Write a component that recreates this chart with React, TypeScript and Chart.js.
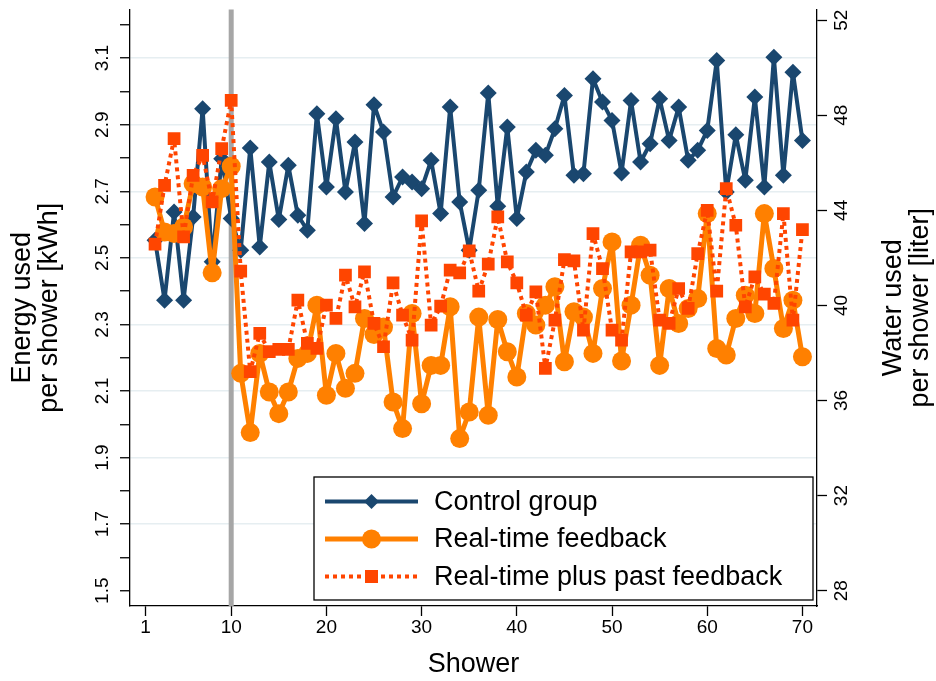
import React, { useEffect, useRef } from 'react';
import { Chart, registerables } from 'chart.js';

Chart.register(...registerables);

// ---------------- data ----------------
const SHOWERS = [
  2, 3, 4, 5, 6, 7, 8, 9, 10, 11, 12, 13, 14, 15, 16, 17, 18, 19, 20, 21,
  22, 23, 24, 25, 26, 27, 28, 29, 30, 31, 32, 33, 34, 35, 36, 37, 38, 39, 40, 41,
  42, 43, 44, 45, 46, 47, 48, 49, 50, 51, 52, 53, 54, 55, 56, 57, 58, 59, 60, 61,
  62, 63, 64, 65, 66, 67, 68, 69, 70,
];

const CONTROL_GROUP = [
  2.553, 2.373, 2.638, 2.373, 2.623, 2.948, 2.488, 2.798, 2.618, 2.523,
  2.830, 2.533, 2.788, 2.615, 2.778, 2.628, 2.583, 2.933, 2.713, 2.918,
  2.698, 2.848, 2.603, 2.960, 2.878, 2.683, 2.743, 2.728, 2.708, 2.793,
  2.633, 2.953, 2.668, 2.523, 2.703, 2.995, 2.655, 2.893, 2.618, 2.758,
  2.823, 2.808, 2.888, 2.988, 2.748, 2.753, 3.038, 2.968, 2.913, 2.755,
  2.973, 2.788, 2.843, 2.978, 2.853, 2.953, 2.793, 2.823, 2.883, 3.093,
  2.698, 2.870, 2.733, 2.983, 2.713, 3.103, 2.748, 3.058, 2.853,
];

const REAL_TIME = [
  2.683, 2.578, 2.573, 2.593, 2.723, 2.713, 2.455, 2.708, 2.775, 2.153,
  1.975, 2.213, 2.097, 2.032, 2.097, 2.198, 2.213, 2.358, 2.087, 2.213,
  2.108, 2.153, 2.318, 2.270, 2.292, 2.067, 1.987, 2.333, 2.062, 2.177,
  2.177, 2.353, 1.957, 2.037, 2.322, 2.027, 2.315, 2.218, 2.142, 2.333,
  2.298, 2.358, 2.413, 2.188, 2.338, 2.322, 2.213, 2.408, 2.548, 2.190,
  2.358, 2.538, 2.448, 2.177, 2.408, 2.303, 2.348, 2.378, 2.633, 2.228,
  2.208, 2.318, 2.388, 2.333, 2.633, 2.468, 2.288, 2.373, 2.203,
];

const REAL_TIME_PLUS_PAST = [
  2.541, 2.718, 2.858, 2.563, 2.748, 2.808, 2.668, 2.828, 2.973, 2.460,
  2.158, 2.273, 2.218, 2.225, 2.225, 2.373, 2.243, 2.228, 2.358, 2.318,
  2.448, 2.353, 2.458, 2.303, 2.233, 2.425, 2.328, 2.253, 2.611, 2.298,
  2.355, 2.463, 2.455, 2.521, 2.400, 2.481, 2.623, 2.488, 2.425, 2.328,
  2.398, 2.168, 2.313, 2.495, 2.491, 2.283, 2.573, 2.468, 2.283, 2.253,
  2.518, 2.518, 2.523, 2.313, 2.303, 2.408, 2.348, 2.513, 2.643, 2.400,
  2.708, 2.598, 2.353, 2.443, 2.391, 2.363, 2.633, 2.313, 2.585,
];

const SERIES_NAMES = ['Control group', 'Real-time feedback', 'Real-time plus past feedback'];
const X_TICKS = [1, 10, 20, 30, 40, 50, 60, 70];
const ENERGY_TICKS = [1.5, 1.6, 1.7, 1.8, 1.9, 2.0, 2.1, 2.2, 2.3, 2.4, 2.5, 2.6, 2.7, 2.8, 2.9, 3.0, 3.1, 3.2];
const ENERGY_LABELS = [1.5, 1.7, 1.9, 2.1, 2.3, 2.5, 2.7, 2.9, 3.1];
const ENERGY_GRID = [1.7, 1.9, 2.1, 2.3, 2.5, 2.7, 2.9, 3.1];
const WATER_TICKS = [28, 32, 36, 40, 44, 48, 52];
const INTERVENTION_SHOWER = 10;

const X_TITLE = 'Shower';
const Y_TITLE = ['Energy used', 'per shower [kWh]'];
const Y2_TITLE = ['Water used', 'per shower [liter]'];

// ---------------- style ----------------
const FONT = "'Liberation Sans', Arial, Helvetica, sans-serif";
const NAVY = '#1a476f';
const ORANGE = '#ff8000';
const ORANGE_RED = '#ff4500';
const GRID = '#e6eef1';

const toPoints = (vals: number[]) => vals.map((v, i) => ({ x: SHOWERS[i], y: v }));
const near = (a: number, list: number[]) => list.some((b) => Math.abs(a - b) < 1e-6);

const decorPlugin = {
  id: 'decor',
  beforeDatasetsDraw(chart: any) {
    const { ctx, chartArea, scales } = chart;
    const x = scales.x.getPixelForValue(INTERVENTION_SHOWER);
    ctx.save();
    ctx.strokeStyle = '#a6a6a6';
    ctx.lineWidth = 5;
    ctx.beginPath();
    ctx.moveTo(x, chartArea.top);
    ctx.lineTo(x, chartArea.bottom);
    ctx.stroke();
    ctx.restore();
  },
  afterDraw(chart: any) {
    const { ctx, chartArea, scales } = chart;
    const rot = (text: string, x: number, y: number) => {
      ctx.save();
      ctx.translate(x, y);
      ctx.rotate(-Math.PI / 2);
      ctx.fillText(text, 0, 0);
      ctx.restore();
    };
    ctx.save();
    ctx.fillStyle = '#000';
    ctx.textAlign = 'center';
    ctx.textBaseline = 'middle';
    ctx.font = `19px ${FONT}`;
    ENERGY_LABELS.forEach((v) => rot(v.toFixed(1), chartArea.left - 27, scales.y.getPixelForValue(v)));
    WATER_TICKS.forEach((v) => rot(String(v), chartArea.right + 25, scales.y2.getPixelForValue(v)));
    ctx.font = `27px ${FONT}`;
    const cy = (chartArea.top + chartArea.bottom) / 2;
    rot(Y_TITLE[0], 23, cy);
    rot(Y_TITLE[1], 50, cy);
    rot(Y2_TITLE[0], 894, cy);
    rot(Y2_TITLE[1], 921, cy);

    // legend
    const bx = 314, by = 477, bw = 499, bh = 123;
    ctx.fillStyle = '#fff';
    ctx.fillRect(bx, by, bw, bh);
    ctx.strokeStyle = '#000';
    ctx.lineWidth = 1.3;
    ctx.strokeRect(bx, by, bw, bh);
    const rows = [501.5, 539, 576.5];
    chart.data.datasets.forEach((ds: any, i: number) => {
      const y = rows[i];
      ctx.save();
      ctx.strokeStyle = ds.borderColor;
      ctx.lineWidth = ds.borderWidth;
      ctx.setLineDash(ds.borderDash || []);
      ctx.lineCap = 'butt';
      ctx.beginPath();
      ctx.moveTo(325, y);
      ctx.lineTo(418, y);
      ctx.stroke();
      ctx.restore();
      const mx = 371.5;
      ctx.fillStyle = ds.pointBackgroundColor;
      ctx.beginPath();
      if (ds.pointStyle === 'rectRot') {
        const r = 7.5;
        ctx.moveTo(mx - r, y);
        ctx.lineTo(mx, y - r);
        ctx.lineTo(mx + r, y);
        ctx.lineTo(mx, y + r);
        ctx.closePath();
      } else if (ds.pointStyle === 'circle') {
        ctx.arc(mx, y, 9.5, 0, Math.PI * 2);
      } else {
        ctx.rect(mx - 6.5, y - 6.5, 13, 13);
      }
      ctx.fill();
      ctx.fillStyle = '#000';
      ctx.textAlign = 'left';
      ctx.font = `27px ${FONT}`;
      ctx.fillText(ds.label, 434, y + 1);
    });
    ctx.restore();
  },
};

export default function App() {
  const ref = useRef<HTMLCanvasElement>(null);
  useEffect(() => {
    const canvas = ref.current;
    if (!canvas) return;
    const chart = new Chart(canvas, {
      type: 'line',
      data: {
        datasets: [
          {
            label: SERIES_NAMES[0],
            data: toPoints(CONTROL_GROUP),
            borderColor: NAVY,
            backgroundColor: NAVY,
            borderWidth: 4,
            borderJoinStyle: 'round',
            pointStyle: 'rectRot',
            pointRadius: 8.5,
            pointBackgroundColor: NAVY,
            pointBorderColor: NAVY,
            pointBorderWidth: 0,
            tension: 0,
            order: 3,
            yAxisID: 'y',
          },
          {
            label: SERIES_NAMES[1],
            data: toPoints(REAL_TIME),
            borderColor: ORANGE,
            backgroundColor: ORANGE,
            borderWidth: 5,
            borderJoinStyle: 'round',
            pointStyle: 'circle',
            pointRadius: 9.5,
            pointBackgroundColor: ORANGE,
            pointBorderColor: ORANGE,
            pointBorderWidth: 0,
            tension: 0,
            order: 2,
            yAxisID: 'y',
          },
          {
            label: SERIES_NAMES[2],
            data: toPoints(REAL_TIME_PLUS_PAST),
            borderColor: ORANGE_RED,
            backgroundColor: ORANGE_RED,
            borderWidth: 4,
            borderDash: [4, 4],
            borderCapStyle: 'butt',
            borderJoinStyle: 'round',
            pointStyle: 'rect',
            pointRadius: 9,
            pointBackgroundColor: ORANGE_RED,
            pointBorderColor: ORANGE_RED,
            pointBorderWidth: 0,
            tension: 0,
            order: 1,
            yAxisID: 'y',
          },
        ],
      },
      options: {
        responsive: false,
        animation: false,
        devicePixelRatio: 1,
        layout: { padding: { top: 9, left: 0, right: 0, bottom: 0 } },
        plugins: { legend: { display: false }, tooltip: { enabled: false } },
        scales: {
          x: {
            type: 'linear',
            min: -0.63,
            max: 71.53,
            afterBuildTicks: (s: any) => { s.ticks = X_TICKS.map((v) => ({ value: v })); },
            afterFit: (s: any) => { s.height = 75; },
            ticks: { color: '#000', font: { family: FONT, size: 19 }, padding: 0, maxRotation: 0, autoSkip: false },
            grid: { drawOnChartArea: false, drawTicks: true, tickLength: 10, tickColor: '#000', tickWidth: 1.3 },
            border: { display: true, color: '#000', width: 1.3 },
            title: { display: true, text: X_TITLE, color: '#000', font: { family: FONT, size: 27 }, padding: { top: 0, bottom: 0 } },
          },
          y: {
            type: 'linear',
            position: 'left',
            min: 1.4541,
            max: 3.2462,
            afterBuildTicks: (s: any) => { s.ticks = ENERGY_TICKS.map((v) => ({ value: v })); },
            afterFit: (s: any) => { s.width = 130; },
            ticks: { display: false },
            grid: {
              drawOnChartArea: true,
              drawTicks: true,
              tickLength: 10,
              tickColor: '#000',
              tickWidth: 1.3,
              lineWidth: 1.5,
              color: (c: any) => (c.tick && near(c.tick.value, ENERGY_GRID) ? GRID : 'rgba(0,0,0,0)'),
            },
            border: { display: true, color: '#000', width: 1.3 },
          },
          y2: {
            type: 'linear',
            position: 'right',
            min: 27.357,
            max: 52.447,
            afterBuildTicks: (s: any) => { s.ticks = WATER_TICKS.map((v) => ({ value: v })); },
            afterFit: (s: any) => { s.width = 119; },
            ticks: { display: false },
            grid: { drawOnChartArea: false, drawTicks: true, tickLength: 10, tickColor: '#000', tickWidth: 1.3 },
            border: { display: true, color: '#000', width: 1.3 },
          },
        },
      },
      plugins: [decorPlugin],
    } as any);
    return () => chart.destroy();
  }, []);

  return (
    <div style={{ position: 'fixed', left: 0, top: 0, width: 936, height: 681, background: '#fff' }}>
      <canvas ref={ref} width={936} height={681} style={{ width: 936, height: 681, display: 'block' }} />
    </div>
  );
}
